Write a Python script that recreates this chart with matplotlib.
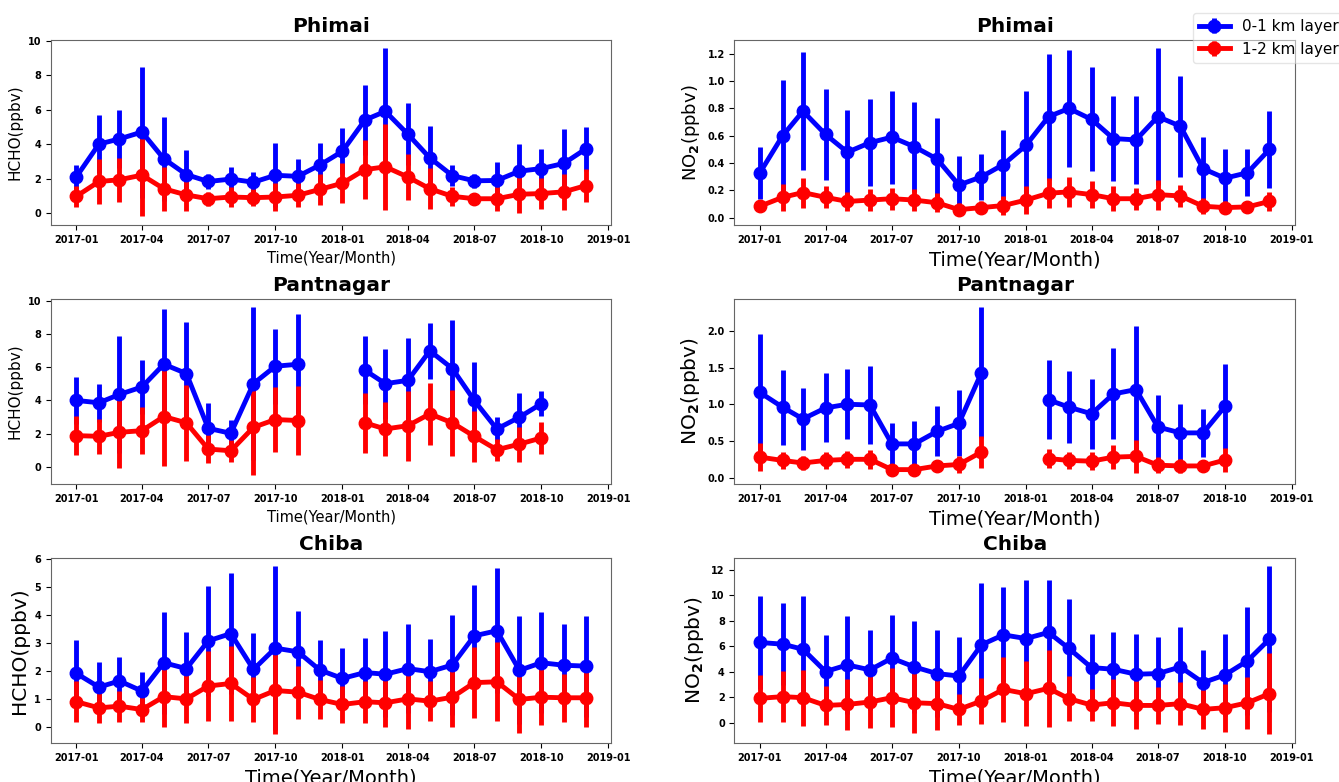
import numpy as np
import pandas as pd
import matplotlib
matplotlib.use('Agg')
import matplotlib.pyplot as plt
import matplotlib.dates as mdates

plt.rcParams['font.weight'] = 'bold'

months = pd.date_range('2017-01-01', '2018-12-01', freq='MS')
nan = np.nan

sites = ['Phimai', 'Pantnagar', 'Chiba']

# HCHO (ppbv), 0-1 km and 1-2 km layers, monthly mean and std
phimai_hcho_01 = [2.1, 4.0, 4.3, 4.7, 3.15, 2.23, 1.83, 1.97, 1.79, 2.19, 2.13, 2.78,
                  3.58, 5.4, 5.9, 4.57, 3.2, 2.17, 1.87, 1.89, 2.43, 2.58, 2.88, 3.72]
phimai_hcho_01_sd = [0.7, 1.7, 1.7, 3.8, 2.45, 1.4, 0.45, 0.7, 0.58, 1.85, 1.0, 1.28,
                     1.33, 2.05, 3.66, 1.8, 1.83, 0.62, 0.4, 1.1, 1.55, 1.13, 1.97, 1.29]
phimai_hcho_12 = [0.97, 1.83, 1.93, 2.2, 1.41, 1.05, 0.83, 0.93, 0.89, 0.93, 1.03, 1.37,
                  1.73, 2.52, 2.68, 2.09, 1.41, 0.97, 0.83, 0.83, 1.09, 1.13, 1.23, 1.59]
phimai_hcho_12_sd = [0.62, 1.3, 1.27, 2.4, 1.27, 0.95, 0.4, 0.6, 0.5, 0.8, 0.7, 0.9,
                     1.15, 1.7, 2.5, 1.35, 1.2, 0.55, 0.35, 0.7, 1.1, 0.9, 1.05, 0.95]

pant_hcho_01 = [4.0, 3.86, 4.36, 4.81, 6.18, 5.62, 2.32, 2.02, 5.01, 6.06, 6.18, nan,
                nan, 5.82, 5.01, 5.21, 6.99, 5.92, 4.0, 2.28, 2.99, 3.8, nan, nan]
pant_hcho_01_sd = [1.4, 1.15, 3.5, 1.6, 3.3, 3.1, 1.5, 0.83, 4.6, 2.26, 3.0, nan,
                   nan, 2.06, 2.1, 2.55, 1.7, 2.93, 2.3, 0.7, 1.47, 0.75, nan, nan]
pant_hcho_12 = [1.88, 1.84, 2.08, 2.18, 3.03, 2.65, 1.07, 0.97, 2.38, 2.85, 2.79, nan,
                nan, 2.65, 2.28, 2.48, 3.19, 2.65, 1.84, 1.03, 1.37, 1.74, nan, nan]
pant_hcho_12_sd = [1.17, 1.06, 2.15, 1.4, 2.95, 2.3, 0.85, 0.65, 2.9, 1.97, 2.05, nan,
                   nan, 1.8, 1.6, 2.1, 1.86, 2.0, 1.55, 0.65, 1.05, 0.96, nan, nan]

chiba_hcho_01 = [1.91, 1.42, 1.64, 1.28, 2.29, 2.08, 3.07, 3.33, 2.05, 2.81, 2.68, 2.03,
                 1.73, 1.94, 1.88, 2.08, 1.97, 2.21, 3.25, 3.43, 2.02, 2.29, 2.2, 2.17]
chiba_hcho_01_sd = [1.18, 0.9, 0.86, 0.68, 1.82, 1.31, 1.97, 2.17, 1.3, 2.92, 1.47, 1.08,
                    1.08, 1.23, 1.53, 1.59, 1.16, 1.78, 1.82, 2.23, 1.92, 1.8, 1.47, 1.8]
chiba_hcho_12 = [0.9, 0.68, 0.74, 0.62, 1.08, 1.0, 1.46, 1.55, 0.98, 1.3, 1.24, 0.98,
                 0.8, 0.9, 0.86, 1.0, 0.92, 1.06, 1.58, 1.61, 0.98, 1.06, 1.04, 1.04]
chiba_hcho_12_sd = [0.73, 0.55, 0.55, 0.45, 1.08, 0.85, 1.26, 1.35, 0.8, 1.57, 0.95, 0.68,
                    0.65, 0.75, 0.87, 1.06, 0.72, 1.05, 1.26, 1.41, 1.2, 1.0, 0.86, 1.05]

# NO2 (ppbv)
phimai_no2_01 = [0.33, 0.60, 0.78, 0.61, 0.48, 0.55, 0.59, 0.52, 0.43, 0.24, 0.30, 0.39,
                 0.53, 0.74, 0.80, 0.72, 0.58, 0.57, 0.74, 0.67, 0.36, 0.29, 0.33, 0.50]
phimai_no2_01_sd = [0.19, 0.41, 0.43, 0.33, 0.31, 0.32, 0.34, 0.33, 0.30, 0.21, 0.17, 0.25,
                    0.40, 0.46, 0.43, 0.38, 0.31, 0.32, 0.50, 0.37, 0.23, 0.21, 0.17, 0.28]
phimai_no2_12 = [0.085, 0.15, 0.185, 0.15, 0.12, 0.13, 0.14, 0.13, 0.11, 0.06, 0.075, 0.09,
                 0.13, 0.18, 0.19, 0.17, 0.14, 0.14, 0.17, 0.16, 0.085, 0.075, 0.08, 0.12]
phimai_no2_12_sd = [0.045, 0.10, 0.11, 0.08, 0.07, 0.08, 0.08, 0.08, 0.07, 0.05, 0.05, 0.07,
                    0.10, 0.11, 0.11, 0.10, 0.09, 0.08, 0.11, 0.08, 0.06, 0.045, 0.04, 0.07]

pant_no2_01 = [1.16, 0.96, 0.80, 0.95, 1.0, 0.99, 0.46, 0.46, 0.63, 0.74, 1.43, nan,
               nan, 1.06, 0.96, 0.87, 1.14, 1.2, 0.69, 0.61, 0.61, 0.97, nan, nan]
pant_no2_01_sd = [0.79, 0.51, 0.42, 0.47, 0.48, 0.53, 0.28, 0.31, 0.34, 0.45, 0.89, nan,
                  nan, 0.54, 0.49, 0.48, 0.62, 0.86, 0.43, 0.40, 0.33, 0.58, nan, nan]
pant_no2_12 = [0.28, 0.235, 0.2, 0.235, 0.25, 0.25, 0.11, 0.11, 0.16, 0.18, 0.35, nan,
               nan, 0.26, 0.235, 0.225, 0.28, 0.29, 0.17, 0.16, 0.16, 0.24, nan, nan]
pant_no2_12_sd = [0.19, 0.12, 0.09, 0.11, 0.12, 0.13, 0.07, 0.08, 0.07, 0.11, 0.22, nan,
                  nan, 0.13, 0.12, 0.12, 0.16, 0.22, 0.11, 0.10, 0.08, 0.16, nan, nan]

chiba_no2_01 = [6.3, 6.17, 5.77, 4.02, 4.54, 4.15, 5.07, 4.38, 3.86, 3.67, 6.12, 6.9,
                6.61, 7.09, 5.83, 4.33, 4.2, 3.81, 3.86, 4.38, 3.15, 3.75, 4.86, 6.56]
chiba_no2_01_sd = [3.67, 3.23, 4.15, 2.86, 3.86, 3.12, 3.38, 3.62, 3.41, 3.08, 4.85, 3.73,
                   4.6, 4.14, 3.88, 2.63, 2.94, 3.15, 2.89, 3.15, 2.55, 3.21, 4.25, 5.72]
chiba_no2_12 = [1.92, 2.05, 1.97, 1.36, 1.44, 1.63, 1.97, 1.57, 1.5, 1.05, 1.71, 2.62,
                2.28, 2.7, 1.89, 1.39, 1.57, 1.36, 1.36, 1.5, 1.05, 1.18, 1.57, 2.28]
chiba_no2_12_sd = [1.85, 1.98, 2.2, 1.55, 2.0, 2.05, 2.3, 2.4, 2.1, 1.24, 1.83, 2.55,
                   2.55, 3.0, 1.75, 1.25, 1.85, 1.88, 1.43, 1.7, 1.5, 1.87, 2.06, 3.2]

hcho = [(phimai_hcho_01, phimai_hcho_01_sd, phimai_hcho_12, phimai_hcho_12_sd),
        (pant_hcho_01, pant_hcho_01_sd, pant_hcho_12, pant_hcho_12_sd),
        (chiba_hcho_01, chiba_hcho_01_sd, chiba_hcho_12, chiba_hcho_12_sd)]
no2 = [(phimai_no2_01, phimai_no2_01_sd, phimai_no2_12, phimai_no2_12_sd),
       (pant_no2_01, pant_no2_01_sd, pant_no2_12, pant_no2_12_sd),
       (chiba_no2_01, chiba_no2_01_sd, chiba_no2_12, chiba_no2_12_sd)]

fig, axs = plt.subplots(3, 2, figsize=(13.39, 7.82), dpi=100)
fig.subplots_adjust(left=0.038, right=0.967, top=0.949, bottom=0.050,
                    wspace=0.22, hspace=0.40)

# label sizes differ from panel to panel in the original
xl_size = {0: [10.5, 10.5, 14], 1: [14, 14, 14]}
yl_size = {0: [11, 11, 14.5], 1: [13, 14.5, 14.5]}
ylabels = ['HCHO(ppbv)', 'NO$_2$(ppbv)']

for col, dset in enumerate([hcho, no2]):
    for row, (m1, s1, m2, s2) in enumerate(dset):
        ax = axs[row, col]
        ax.errorbar(months, m1, yerr=s1, fmt='-o', color='blue', lw=3.5,
                    elinewidth=3.5, ms=9, label='0-1 km layer')
        ax.errorbar(months, m2, yerr=s2, fmt='-o', color='red', lw=3.5,
                    elinewidth=3.5, ms=9, label='1-2 km layer')
        ax.set_title(sites[row], fontsize=14.5, fontweight='bold')
        ax.set_xlabel('Time(Year/Month)', fontsize=xl_size[col][row], fontweight='normal')
        ax.set_ylabel(ylabels[col], fontsize=yl_size[col][row], fontweight='normal')
        ax.xaxis.set_major_locator(mdates.MonthLocator(bymonth=[1, 4, 7, 10]))
        ax.xaxis.set_major_formatter(mdates.DateFormatter('%Y-%m'))
        ax.tick_params(labelsize=7)
        for sp in ax.spines.values():
            sp.set_color('#666666')

xlim = axs[0, 0].get_xlim()
for ax in axs.flat:
    ax.set_xlim(xlim)

handles, labels = axs[0, 1].get_legend_handles_labels()
fig.legend(handles, labels, loc='upper left', bbox_to_anchor=(1193 / 1339, 1 - 13 / 782),
           borderaxespad=0, framealpha=0.5, prop={'size': 11, 'weight': 'normal'})

fig.savefig('out.png', dpi=100)
